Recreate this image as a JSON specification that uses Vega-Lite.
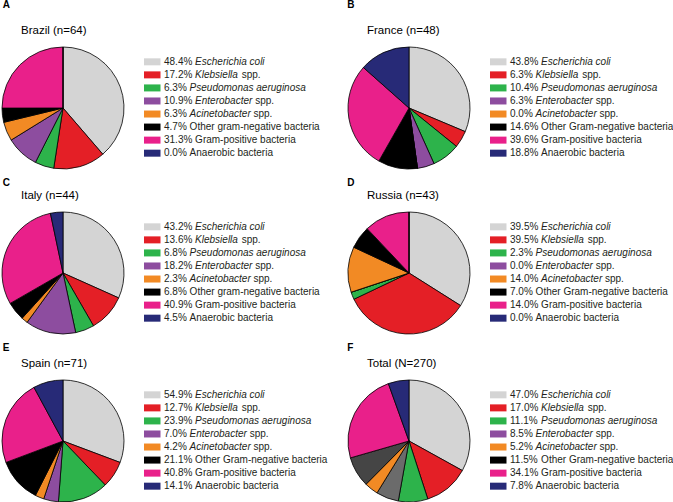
{
  "$schema": "https://vega.github.io/schema/vega-lite/v6.json",
  "padding": {"left": 0, "top": 0, "right": 0, "bottom": 0},
  "spacing": 6,
  "datasets": {
    "d": [
      {"country": "Brazil", "k": 1, "pct": 48.4, "sp": "Escherichia coli", "rest": ""},
      {"country": "Brazil", "k": 2, "pct": 17.2, "sp": "Klebsiella", "rest": "spp."},
      {"country": "Brazil", "k": 3, "pct": 6.3, "sp": "Pseudomonas aeruginosa", "rest": ""},
      {"country": "Brazil", "k": 4, "pct": 10.9, "sp": "Enterobacter", "rest": "spp."},
      {"country": "Brazil", "k": 5, "pct": 6.3, "sp": "Acinetobacter", "rest": "spp."},
      {"country": "Brazil", "k": 6, "pct": 4.7, "sp": "", "rest": "Other gram-negative bacteria"},
      {"country": "Brazil", "k": 7, "pct": 31.3, "sp": "", "rest": "Gram-positive bacteria"},
      {"country": "Brazil", "k": 8, "pct": 0.0, "sp": "", "rest": "Anaerobic bacteria"},
      {"country": "France", "k": 1, "pct": 43.8, "sp": "Escherichia coli", "rest": ""},
      {"country": "France", "k": 2, "pct": 6.3, "sp": "Klebsiella", "rest": "spp."},
      {"country": "France", "k": 3, "pct": 10.4, "sp": "Pseudomonas aeruginosa", "rest": ""},
      {"country": "France", "k": 4, "pct": 6.3, "sp": "Enterobacter", "rest": "spp."},
      {"country": "France", "k": 5, "pct": 0.0, "sp": "Acinetobacter", "rest": "spp."},
      {"country": "France", "k": 6, "pct": 14.6, "sp": "", "rest": "Other Gram-negative bacteria"},
      {"country": "France", "k": 7, "pct": 39.6, "sp": "", "rest": "Gram-positive bacteria"},
      {"country": "France", "k": 8, "pct": 18.8, "sp": "", "rest": "Anaerobic bacteria"},
      {"country": "Italy", "k": 1, "pct": 43.2, "sp": "Escherichia coli", "rest": ""},
      {"country": "Italy", "k": 2, "pct": 13.6, "sp": "Klebsiella", "rest": "spp."},
      {"country": "Italy", "k": 3, "pct": 6.8, "sp": "Pseudomonas aeruginosa", "rest": ""},
      {"country": "Italy", "k": 4, "pct": 18.2, "sp": "Enterobacter", "rest": "spp."},
      {"country": "Italy", "k": 5, "pct": 2.3, "sp": "Acinetobacter", "rest": "spp."},
      {"country": "Italy", "k": 6, "pct": 6.8, "sp": "", "rest": "Other gram-negative bacteria"},
      {"country": "Italy", "k": 7, "pct": 40.9, "sp": "", "rest": "Gram-positive bacteria"},
      {"country": "Italy", "k": 8, "pct": 4.5, "sp": "", "rest": "Anaerobic bacteria"},
      {"country": "Russia", "k": 1, "pct": 39.5, "sp": "Escherichia coli", "rest": ""},
      {"country": "Russia", "k": 2, "pct": 39.5, "sp": "Klebsiella", "rest": "spp."},
      {"country": "Russia", "k": 3, "pct": 2.3, "sp": "Pseudomonas aeruginosa", "rest": ""},
      {"country": "Russia", "k": 4, "pct": 0.0, "sp": "Enterobacter", "rest": "spp."},
      {"country": "Russia", "k": 5, "pct": 14.0, "sp": "Acinetobacter", "rest": "spp."},
      {"country": "Russia", "k": 6, "pct": 7.0, "sp": "", "rest": "Other Gram-negative bacteria"},
      {"country": "Russia", "k": 7, "pct": 14.0, "sp": "", "rest": "Gram-positive bacteria"},
      {"country": "Russia", "k": 8, "pct": 0.0, "sp": "", "rest": "Anaerobic bacteria"},
      {"country": "Spain", "k": 1, "pct": 54.9, "sp": "Escherichia coli", "rest": ""},
      {"country": "Spain", "k": 2, "pct": 12.7, "sp": "Klebsiella", "rest": "spp."},
      {"country": "Spain", "k": 3, "pct": 23.9, "sp": "Pseudomonas aeruginosa", "rest": ""},
      {"country": "Spain", "k": 4, "pct": 7.0, "sp": "Enterobacter", "rest": "spp."},
      {"country": "Spain", "k": 5, "pct": 4.2, "sp": "Acinetobacter", "rest": "spp."},
      {"country": "Spain", "k": 6, "pct": 21.1, "sp": "", "rest": "Other Gram-negative bacteria"},
      {"country": "Spain", "k": 7, "pct": 40.8, "sp": "", "rest": "Gram-positive bacteria"},
      {"country": "Spain", "k": 8, "pct": 14.1, "sp": "", "rest": "Anaerobic bacteria"},
      {"country": "Total", "k": 1, "pct": 47.0, "sp": "Escherichia coli", "rest": ""},
      {"country": "Total", "k": 2, "pct": 17.0, "sp": "Klebsiella", "rest": "spp."},
      {"country": "Total", "k": 3, "pct": 11.1, "sp": "Pseudomonas aeruginosa", "rest": ""},
      {"country": "Total", "k": 4, "pct": 8.5, "sp": "Enterobacter", "rest": "spp."},
      {"country": "Total", "k": 5, "pct": 5.2, "sp": "Acinetobacter", "rest": "spp."},
      {"country": "Total", "k": 6, "pct": 11.5, "sp": "", "rest": "Other Gram-negative bacteria"},
      {"country": "Total", "k": 7, "pct": 34.1, "sp": "", "rest": "Gram-positive bacteria"},
      {"country": "Total", "k": 8, "pct": 7.8, "sp": "", "rest": "Anaerobic bacteria"}
    ]
  },
  "vconcat": [
    {"spacing": 17, "hconcat": [
      {"title": {"text": "A", "fontWeight": "bold", "fontSize": 10, "dx": 0.7, "offset": 14.3}, "hconcat": [
        {"width": 327, "height": 122, "title": {"text": "Brazil (n=64)"}, "data": {"name": "d"},
         "transform": [{"filter": "datum.country == 'Brazil'"}, {"calculate": "format(datum.pct, '.1f') + '%'", "as": "pl"}, {"calculate": "162 + (datum.pct >= 10 ? 31.1 : 25.6)", "as": "nameX"}, {"calculate": "datum.nameX + (datum.sp == 'Klebsiella' ? 46.6 : datum.sp == 'Enterobacter' ? 60.1 : datum.sp == 'Acinetobacter' ? 63.9 : 0)", "as": "restX"}],
         "resolve": {"scale": {"y": "independent", "color": "independent"}},
         "layer": [
           {"mark": {"type": "arc", "outerRadius": 61, "stroke": "#000", "strokeWidth": 0.8},
            "encoding": {"x": {"datum": 61, "type": "quantitative", "axis": null, "scale": {"domain": [0, 327], "range": [0, 327], "nice": false, "zero": false}}, "y": {"datum": 61, "type": "quantitative", "axis": null, "scale": {"domain": [0, 122], "range": [0, 122], "nice": false, "zero": false}},
              "theta": {"field": "pct", "type": "quantitative", "stack": true}, "order": {"field": "k"},
              "color": {"field": "k", "type": "nominal", "legend": null, "scale": {"domain": [1,2,3,4,5,6,7,8], "range": ["#d4d4d4","#e41f26","#2db34b","#8d4d9f","#f28a24","#000000","#e9208a","#272a77"]}}}},
           {"layer": [
             {"mark": {"type": "rect"}, "encoding": {"x": {"datum": 142, "type": "quantitative"}, "x2": {"datum": 158.5},
               "color": {"field": "k", "type": "nominal", "legend": null, "scale": {"domain": [1,2,3,4,5,6,7,8], "range": ["#d4d4d4","#e41f26","#2db34b","#8d4d9f","#f28a24","#000000","#e9208a","#272a77"]}}}},
             {"mark": {"type": "text", "align": "left", "font": "Liberation Sans", "fontSize": 10, "color": "#231f20"}, "encoding": {"x": {"datum": 162, "type": "quantitative"}, "text": {"field": "pl"}}},
             {"mark": {"type": "text", "align": "left", "font": "Liberation Sans", "fontSize": 10, "color": "#231f20", "fontStyle": "italic"}, "encoding": {"x": {"field": "nameX", "type": "quantitative"}, "text": {"field": "sp"}}},
             {"mark": {"type": "text", "align": "left", "font": "Liberation Sans", "fontSize": 10, "color": "#231f20"}, "encoding": {"x": {"field": "restX", "type": "quantitative"}, "text": {"field": "rest"}}}
           ], "encoding": {"y": {"field": "k", "type": "ordinal", "axis": null, "scale": {"type": "band", "range": [8.3, 112.7], "paddingInner": 0.4636, "paddingOuter": 0.2318}}}}
         ]}
      ]},
      {"title": {"text": "B", "fontWeight": "bold", "fontSize": 10, "dx": -0.7, "offset": 14.3}, "hconcat": [
        {"width": 327, "height": 122, "title": {"text": "France (n=48)"}, "data": {"name": "d"},
         "transform": [{"filter": "datum.country == 'France'"}, {"calculate": "format(datum.pct, '.1f') + '%'", "as": "pl"}, {"calculate": "162 + (datum.pct >= 10 ? 31.1 : 25.6)", "as": "nameX"}, {"calculate": "datum.nameX + (datum.sp == 'Klebsiella' ? 46.6 : datum.sp == 'Enterobacter' ? 60.1 : datum.sp == 'Acinetobacter' ? 63.9 : 0)", "as": "restX"}],
         "resolve": {"scale": {"y": "independent", "color": "independent"}},
         "layer": [
           {"mark": {"type": "arc", "outerRadius": 61, "stroke": "#000", "strokeWidth": 0.8},
            "encoding": {"x": {"datum": 61, "type": "quantitative", "axis": null, "scale": {"domain": [0, 327], "range": [0, 327], "nice": false, "zero": false}}, "y": {"datum": 61, "type": "quantitative", "axis": null, "scale": {"domain": [0, 122], "range": [0, 122], "nice": false, "zero": false}},
              "theta": {"field": "pct", "type": "quantitative", "stack": true}, "order": {"field": "k"},
              "color": {"field": "k", "type": "nominal", "legend": null, "scale": {"domain": [1,2,3,4,5,6,7,8], "range": ["#d4d4d4","#e41f26","#2db34b","#8d4d9f","#f28a24","#000000","#e9208a","#272a77"]}}}},
           {"layer": [
             {"mark": {"type": "rect"}, "encoding": {"x": {"datum": 142, "type": "quantitative"}, "x2": {"datum": 158.5},
               "color": {"field": "k", "type": "nominal", "legend": null, "scale": {"domain": [1,2,3,4,5,6,7,8], "range": ["#d4d4d4","#e41f26","#2db34b","#8d4d9f","#f28a24","#000000","#e9208a","#272a77"]}}}},
             {"mark": {"type": "text", "align": "left", "font": "Liberation Sans", "fontSize": 10, "color": "#231f20"}, "encoding": {"x": {"datum": 162, "type": "quantitative"}, "text": {"field": "pl"}}},
             {"mark": {"type": "text", "align": "left", "font": "Liberation Sans", "fontSize": 10, "color": "#231f20", "fontStyle": "italic"}, "encoding": {"x": {"field": "nameX", "type": "quantitative"}, "text": {"field": "sp"}}},
             {"mark": {"type": "text", "align": "left", "font": "Liberation Sans", "fontSize": 10, "color": "#231f20"}, "encoding": {"x": {"field": "restX", "type": "quantitative"}, "text": {"field": "rest"}}}
           ], "encoding": {"y": {"field": "k", "type": "ordinal", "axis": null, "scale": {"type": "band", "range": [8.3, 112.7], "paddingInner": 0.4636, "paddingOuter": 0.2318}}}}
         ]}
      ]}
    ]},
    {"spacing": 17, "hconcat": [
      {"title": {"text": "C", "fontWeight": "bold", "fontSize": 10, "dx": 0.7, "offset": 2}, "hconcat": [
        {"width": 327, "height": 122, "title": {"text": "Italy (n=44)"}, "data": {"name": "d"},
         "transform": [{"filter": "datum.country == 'Italy'"}, {"calculate": "format(datum.pct, '.1f') + '%'", "as": "pl"}, {"calculate": "162 + (datum.pct >= 10 ? 31.1 : 25.6)", "as": "nameX"}, {"calculate": "datum.nameX + (datum.sp == 'Klebsiella' ? 46.6 : datum.sp == 'Enterobacter' ? 60.1 : datum.sp == 'Acinetobacter' ? 63.9 : 0)", "as": "restX"}],
         "resolve": {"scale": {"y": "independent", "color": "independent"}},
         "layer": [
           {"mark": {"type": "arc", "outerRadius": 61, "stroke": "#000", "strokeWidth": 0.8},
            "encoding": {"x": {"datum": 61, "type": "quantitative", "axis": null, "scale": {"domain": [0, 327], "range": [0, 327], "nice": false, "zero": false}}, "y": {"datum": 61, "type": "quantitative", "axis": null, "scale": {"domain": [0, 122], "range": [0, 122], "nice": false, "zero": false}},
              "theta": {"field": "pct", "type": "quantitative", "stack": true}, "order": {"field": "k"},
              "color": {"field": "k", "type": "nominal", "legend": null, "scale": {"domain": [1,2,3,4,5,6,7,8], "range": ["#d4d4d4","#e41f26","#2db34b","#8d4d9f","#f28a24","#000000","#e9208a","#272a77"]}}}},
           {"layer": [
             {"mark": {"type": "rect"}, "encoding": {"x": {"datum": 142, "type": "quantitative"}, "x2": {"datum": 158.5},
               "color": {"field": "k", "type": "nominal", "legend": null, "scale": {"domain": [1,2,3,4,5,6,7,8], "range": ["#d4d4d4","#e41f26","#2db34b","#8d4d9f","#f28a24","#000000","#e9208a","#272a77"]}}}},
             {"mark": {"type": "text", "align": "left", "font": "Liberation Sans", "fontSize": 10, "color": "#231f20"}, "encoding": {"x": {"datum": 162, "type": "quantitative"}, "text": {"field": "pl"}}},
             {"mark": {"type": "text", "align": "left", "font": "Liberation Sans", "fontSize": 10, "color": "#231f20", "fontStyle": "italic"}, "encoding": {"x": {"field": "nameX", "type": "quantitative"}, "text": {"field": "sp"}}},
             {"mark": {"type": "text", "align": "left", "font": "Liberation Sans", "fontSize": 10, "color": "#231f20"}, "encoding": {"x": {"field": "restX", "type": "quantitative"}, "text": {"field": "rest"}}}
           ], "encoding": {"y": {"field": "k", "type": "ordinal", "axis": null, "scale": {"type": "band", "range": [8.3, 112.7], "paddingInner": 0.4636, "paddingOuter": 0.2318}}}}
         ]}
      ]},
      {"title": {"text": "D", "fontWeight": "bold", "fontSize": 10, "dx": -0.7, "offset": 2}, "hconcat": [
        {"width": 327, "height": 122, "title": {"text": "Russia (n=43)"}, "data": {"name": "d"},
         "transform": [{"filter": "datum.country == 'Russia'"}, {"calculate": "format(datum.pct, '.1f') + '%'", "as": "pl"}, {"calculate": "162 + (datum.pct >= 10 ? 31.1 : 25.6)", "as": "nameX"}, {"calculate": "datum.nameX + (datum.sp == 'Klebsiella' ? 46.6 : datum.sp == 'Enterobacter' ? 60.1 : datum.sp == 'Acinetobacter' ? 63.9 : 0)", "as": "restX"}],
         "resolve": {"scale": {"y": "independent", "color": "independent"}},
         "layer": [
           {"mark": {"type": "arc", "outerRadius": 61, "stroke": "#000", "strokeWidth": 0.8},
            "encoding": {"x": {"datum": 61, "type": "quantitative", "axis": null, "scale": {"domain": [0, 327], "range": [0, 327], "nice": false, "zero": false}}, "y": {"datum": 61, "type": "quantitative", "axis": null, "scale": {"domain": [0, 122], "range": [0, 122], "nice": false, "zero": false}},
              "theta": {"field": "pct", "type": "quantitative", "stack": true}, "order": {"field": "k"},
              "color": {"field": "k", "type": "nominal", "legend": null, "scale": {"domain": [1,2,3,4,5,6,7,8], "range": ["#d4d4d4","#e41f26","#2db34b","#8d4d9f","#f28a24","#000000","#e9208a","#272a77"]}}}},
           {"layer": [
             {"mark": {"type": "rect"}, "encoding": {"x": {"datum": 142, "type": "quantitative"}, "x2": {"datum": 158.5},
               "color": {"field": "k", "type": "nominal", "legend": null, "scale": {"domain": [1,2,3,4,5,6,7,8], "range": ["#d4d4d4","#e41f26","#2db34b","#8d4d9f","#f28a24","#000000","#e9208a","#272a77"]}}}},
             {"mark": {"type": "text", "align": "left", "font": "Liberation Sans", "fontSize": 10, "color": "#231f20"}, "encoding": {"x": {"datum": 162, "type": "quantitative"}, "text": {"field": "pl"}}},
             {"mark": {"type": "text", "align": "left", "font": "Liberation Sans", "fontSize": 10, "color": "#231f20", "fontStyle": "italic"}, "encoding": {"x": {"field": "nameX", "type": "quantitative"}, "text": {"field": "sp"}}},
             {"mark": {"type": "text", "align": "left", "font": "Liberation Sans", "fontSize": 10, "color": "#231f20"}, "encoding": {"x": {"field": "restX", "type": "quantitative"}, "text": {"field": "rest"}}}
           ], "encoding": {"y": {"field": "k", "type": "ordinal", "axis": null, "scale": {"type": "band", "range": [8.3, 112.7], "paddingInner": 0.4636, "paddingOuter": 0.2318}}}}
         ]}
      ]}
    ]},
    {"spacing": 17, "hconcat": [
      {"title": {"text": "E", "fontWeight": "bold", "fontSize": 10, "dx": 0.7, "offset": 5}, "hconcat": [
        {"width": 327, "height": 122, "title": {"text": "Spain (n=71)"}, "data": {"name": "d"},
         "transform": [{"filter": "datum.country == 'Spain'"}, {"calculate": "format(datum.pct, '.1f') + '%'", "as": "pl"}, {"calculate": "162 + (datum.pct >= 10 ? 31.1 : 25.6)", "as": "nameX"}, {"calculate": "datum.nameX + (datum.sp == 'Klebsiella' ? 46.6 : datum.sp == 'Enterobacter' ? 60.1 : datum.sp == 'Acinetobacter' ? 63.9 : 0)", "as": "restX"}],
         "resolve": {"scale": {"y": "independent", "color": "independent"}},
         "layer": [
           {"mark": {"type": "arc", "outerRadius": 61, "stroke": "#000", "strokeWidth": 0.8},
            "encoding": {"x": {"datum": 61, "type": "quantitative", "axis": null, "scale": {"domain": [0, 327], "range": [0, 327], "nice": false, "zero": false}}, "y": {"datum": 61, "type": "quantitative", "axis": null, "scale": {"domain": [0, 122], "range": [0, 122], "nice": false, "zero": false}},
              "theta": {"field": "pct", "type": "quantitative", "stack": true}, "order": {"field": "k"},
              "color": {"field": "k", "type": "nominal", "legend": null, "scale": {"domain": [1,2,3,4,5,6,7,8], "range": ["#d4d4d4","#e41f26","#2db34b","#8d4d9f","#f28a24","#000000","#e9208a","#272a77"]}}}},
           {"layer": [
             {"mark": {"type": "rect"}, "encoding": {"x": {"datum": 142, "type": "quantitative"}, "x2": {"datum": 158.5},
               "color": {"field": "k", "type": "nominal", "legend": null, "scale": {"domain": [1,2,3,4,5,6,7,8], "range": ["#d4d4d4","#e41f26","#2db34b","#8d4d9f","#f28a24","#000000","#e9208a","#272a77"]}}}},
             {"mark": {"type": "text", "align": "left", "font": "Liberation Sans", "fontSize": 10, "color": "#231f20"}, "encoding": {"x": {"datum": 162, "type": "quantitative"}, "text": {"field": "pl"}}},
             {"mark": {"type": "text", "align": "left", "font": "Liberation Sans", "fontSize": 10, "color": "#231f20", "fontStyle": "italic"}, "encoding": {"x": {"field": "nameX", "type": "quantitative"}, "text": {"field": "sp"}}},
             {"mark": {"type": "text", "align": "left", "font": "Liberation Sans", "fontSize": 10, "color": "#231f20"}, "encoding": {"x": {"field": "restX", "type": "quantitative"}, "text": {"field": "rest"}}}
           ], "encoding": {"y": {"field": "k", "type": "ordinal", "axis": null, "scale": {"type": "band", "range": [8.3, 112.7], "paddingInner": 0.4636, "paddingOuter": 0.2318}}}}
         ]}
      ]},
      {"title": {"text": "F", "fontWeight": "bold", "fontSize": 10, "dx": -0.7, "offset": 5}, "hconcat": [
        {"width": 327, "height": 122, "title": {"text": "Total (N=270)"}, "data": {"name": "d"},
         "transform": [{"filter": "datum.country == 'Total'"}, {"calculate": "format(datum.pct, '.1f') + '%'", "as": "pl"}, {"calculate": "162 + (datum.pct >= 10 ? 31.1 : 25.6)", "as": "nameX"}, {"calculate": "datum.nameX + (datum.sp == 'Klebsiella' ? 46.6 : datum.sp == 'Enterobacter' ? 60.1 : datum.sp == 'Acinetobacter' ? 63.9 : 0)", "as": "restX"}],
         "resolve": {"scale": {"y": "independent", "color": "independent"}},
         "layer": [
           {"mark": {"type": "arc", "outerRadius": 61, "stroke": "#000", "strokeWidth": 0.8},
            "encoding": {"x": {"datum": 61, "type": "quantitative", "axis": null, "scale": {"domain": [0, 327], "range": [0, 327], "nice": false, "zero": false}}, "y": {"datum": 61, "type": "quantitative", "axis": null, "scale": {"domain": [0, 122], "range": [0, 122], "nice": false, "zero": false}},
              "theta": {"field": "pct", "type": "quantitative", "stack": true}, "order": {"field": "k"},
              "color": {"field": "k", "type": "nominal", "legend": null, "scale": {"domain": [1,2,3,4,5,6,7,8], "range": ["#d4d4d4","#e41f26","#2db34b","#6b6b6b","#f28a24","#454545","#e9208a","#272a77"]}}}},
           {"layer": [
             {"mark": {"type": "rect"}, "encoding": {"x": {"datum": 142, "type": "quantitative"}, "x2": {"datum": 158.5},
               "color": {"field": "k", "type": "nominal", "legend": null, "scale": {"domain": [1,2,3,4,5,6,7,8], "range": ["#d4d4d4","#e41f26","#2db34b","#8d4d9f","#f28a24","#000000","#e9208a","#272a77"]}}}},
             {"mark": {"type": "text", "align": "left", "font": "Liberation Sans", "fontSize": 10, "color": "#231f20"}, "encoding": {"x": {"datum": 162, "type": "quantitative"}, "text": {"field": "pl"}}},
             {"mark": {"type": "text", "align": "left", "font": "Liberation Sans", "fontSize": 10, "color": "#231f20", "fontStyle": "italic"}, "encoding": {"x": {"field": "nameX", "type": "quantitative"}, "text": {"field": "sp"}}},
             {"mark": {"type": "text", "align": "left", "font": "Liberation Sans", "fontSize": 10, "color": "#231f20"}, "encoding": {"x": {"field": "restX", "type": "quantitative"}, "text": {"field": "rest"}}}
           ], "encoding": {"y": {"field": "k", "type": "ordinal", "axis": null, "scale": {"type": "band", "range": [8.3, 112.7], "paddingInner": 0.4636, "paddingOuter": 0.2318}}}}
         ]}
      ]}
    ]}
  ],
  "config": {
    "view": {"stroke": null},
    "font": "Liberation Sans",
    "title": {"font": "Liberation Sans", "anchor": "start", "frame": "group", "color": "#000000", "fontSize": 11.5, "fontWeight": "normal", "offset": 9.4, "dx": 19},
    "concat": {"spacing": 20}
  }
}
